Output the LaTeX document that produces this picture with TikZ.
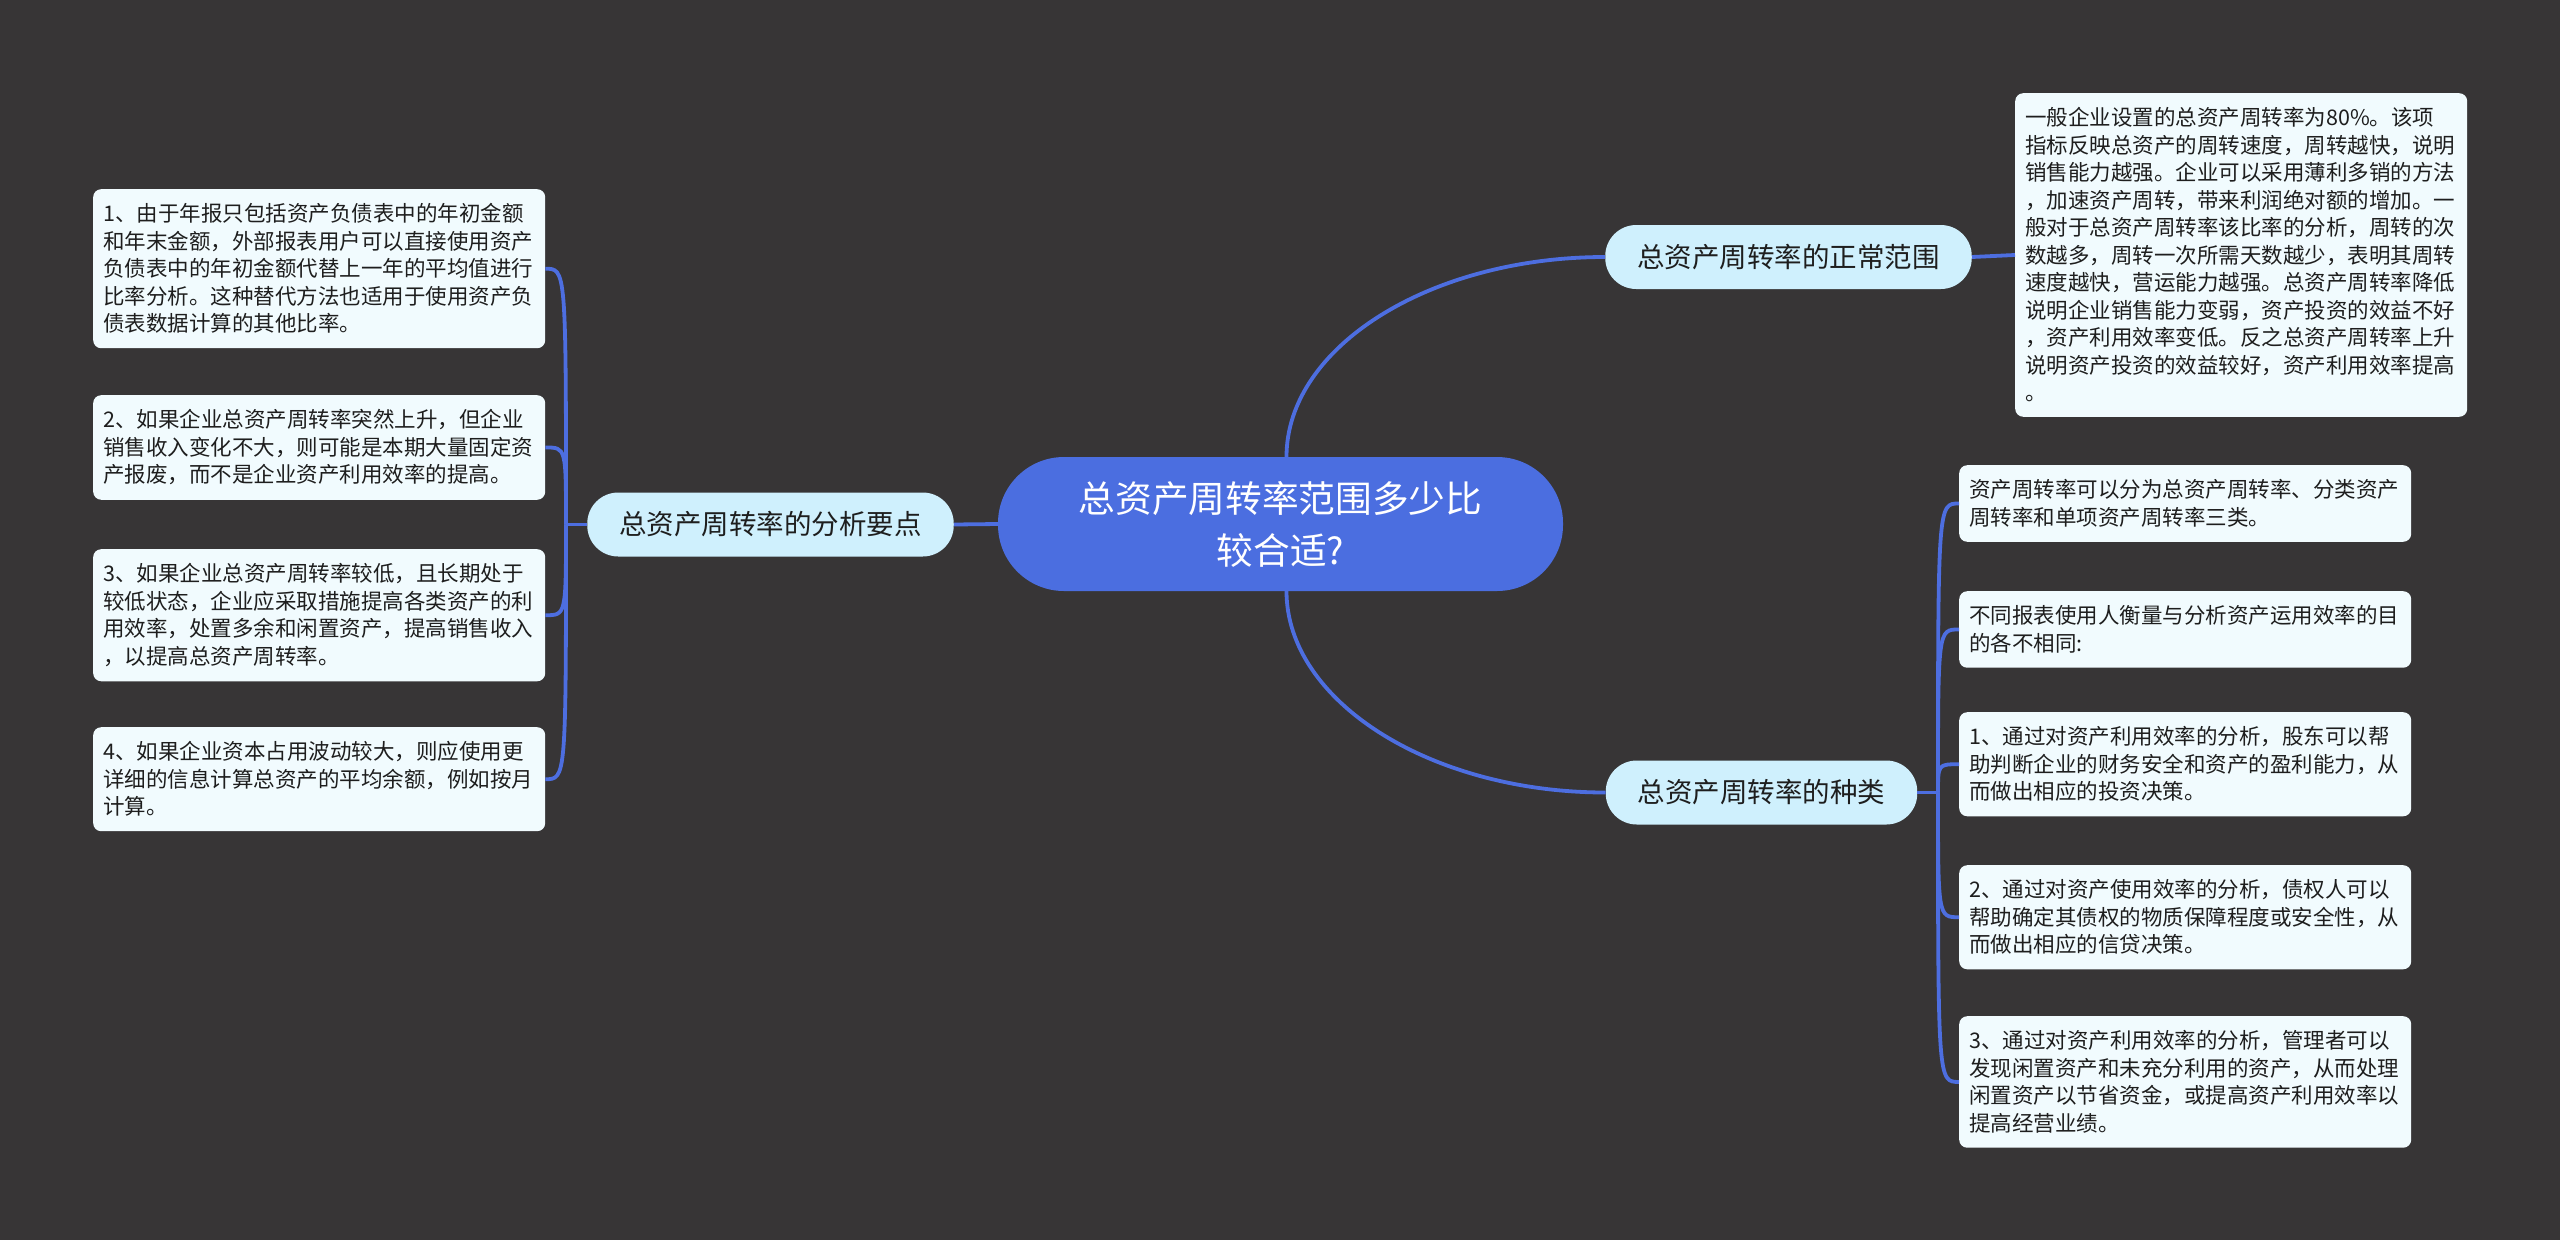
\documentclass[tikz,border=0pt]{standalone}
\usepackage{fontspec}
\newfontfamily\cjk{Noto Sans CJK SC}
\definecolor{bgcol}{HTML}{373536}
\definecolor{rootblue}{HTML}{4B6EE0}
\definecolor{linkblue}{HTML}{4D6EE0}
\definecolor{branchfill}{HTML}{CFF0FD}
\definecolor{leaffill}{HTML}{F1FBFE}
\definecolor{textdark}{HTML}{1E1E1E}

\begin{document}
\begin{tikzpicture}[
  x=1pt, y=-1pt,
  rootbox/.style={rectangle, fill=rootblue, rounded corners=66pt,
                  minimum width=565pt, minimum height=134pt, align=center,
                  text=white, font=\cjk\fontsize{36.7}{52}\selectfont},
  branchbox/.style={rectangle, fill=branchfill, rounded corners=31pt,
                    minimum height=64pt, inner xsep=32pt, text=textdark,
                    font=\cjk\fontsize{27.5}{33}\selectfont},
  leafbox/.style={rectangle, fill=leaffill, rounded corners=8pt, anchor=north west,
                  text width=432pt, inner xsep=10pt, inner ysep=14.5pt, align=left,
                  text=textdark, font=\cjk\fontsize{21.5}{27.5}\selectfont},
  link/.style={draw=linkblue, line width=3.8pt}
]
\fill[bgcol] (0,0) rectangle (2560,1240);
\useasboundingbox (0,0) rectangle (2560,1240);

\node[rootbox] (root) at (1280.5,524) {总资产周转率范围多少比\\较合适?};
\node[branchbox] (analysis) at (770.5,524.5) {总资产周转率的分析要点};
\node[branchbox] (normal) at (1788.5,257) {总资产周转率的正常范围};
\node[branchbox] (kinds) at (1761.5,792.5) {总资产周转率的种类};

\node[leafbox] (normaltext) at (2015,93) {%
  一般企业设置的总资产周转率为80\%。该项\\
  指标反映总资产的周转速度，周转越快，说明\\
  销售能力越强。企业可以采用薄利多销的方法\\
  ，加速资产周转，带来利润绝对额的增加。一\\
  般对于总资产周转率该比率的分析，周转的次\\
  数越多，周转一次所需天数越少，表明其周转\\
  速度越快，营运能力越强。总资产周转率降低\\
  说明企业销售能力变弱，资产投资的效益不好\\
  ，资产利用效率变低。反之总资产周转率上升\\
  说明资产投资的效益较好，资产利用效率提高\\
  。};

\node[leafbox] (k1) at (1959,465) {%
  资产周转率可以分为总资产周转率、分类资产\\
  周转率和单项资产周转率三类。};
\node[leafbox] (k2) at (1959,591) {%
  不同报表使用人衡量与分析资产运用效率的目\\
  的各不相同:};
\node[leafbox] (k3) at (1959,712) {%
  1、通过对资产利用效率的分析，股东可以帮\\
  助判断企业的财务安全和资产的盈利能力，从\\
  而做出相应的投资决策。};
\node[leafbox] (k4) at (1959,865) {%
  2、通过对资产使用效率的分析，债权人可以\\
  帮助确定其债权的物质保障程度或安全性，从\\
  而做出相应的信贷决策。};
\node[leafbox] (k5) at (1959,1016) {%
  3、通过对资产利用效率的分析，管理者可以\\
  发现闲置资产和未充分利用的资产，从而处理\\
  闲置资产以节省资金，或提高资产利用效率以\\
  提高经营业绩。};

\node[leafbox] (a1) at (93,189) {%
  1、由于年报只包括资产负债表中的年初金额\\
  和年末金额，外部报表用户可以直接使用资产\\
  负债表中的年初金额代替上一年的平均值进行\\
  比率分析。这种替代方法也适用于使用资产负\\
  债表数据计算的其他比率。};
\node[leafbox] (a2) at (93,395) {%
  2、如果企业总资产周转率突然上升，但企业\\
  销售收入变化不大，则可能是本期大量固定资\\
  产报废，而不是企业资产利用效率的提高。};
\node[leafbox] (a3) at (93,549) {%
  3、如果企业总资产周转率较低，且长期处于\\
  较低状态，企业应采取措施提高各类资产的利\\
  用效率，处置多余和闲置资产，提高销售收入\\
  ，以提高总资产周转率。};
\node[leafbox] (a4) at (93,727) {%
  4、如果企业资本占用波动较大，则应使用更\\
  详细的信息计算总资产的平均余额，例如按月\\
  计算。};

\coordinate (ljoin) at (566,524.5);
\coordinate (rjoin) at (1938,792.5);

\draw[link] (root.west) -- (analysis.east);
\draw[link] ([xshift=6pt]root.north) .. controls +(0,-110) and +(-175,0) .. (normal.west);
\draw[link] ([xshift=6pt]root.south) .. controls +(0,110) and +(-175,0) .. (kinds.west);
\draw[link] (normal.east) -- (normaltext.west);
\draw[link] (analysis.west) -- (ljoin);
\draw[link] (kinds.east) -- (rjoin);
\foreach \n in {a1,a2,a3,a4}
  \draw[link] (ljoin) .. controls (ljoin |- \n.east) and (ljoin |- \n.east) .. (\n.east);
\foreach \n in {k1,k2,k3,k4,k5}
  \draw[link] (rjoin) .. controls (rjoin |- \n.west) and (rjoin |- \n.west) .. (\n.west);
\end{tikzpicture}
\end{document}
